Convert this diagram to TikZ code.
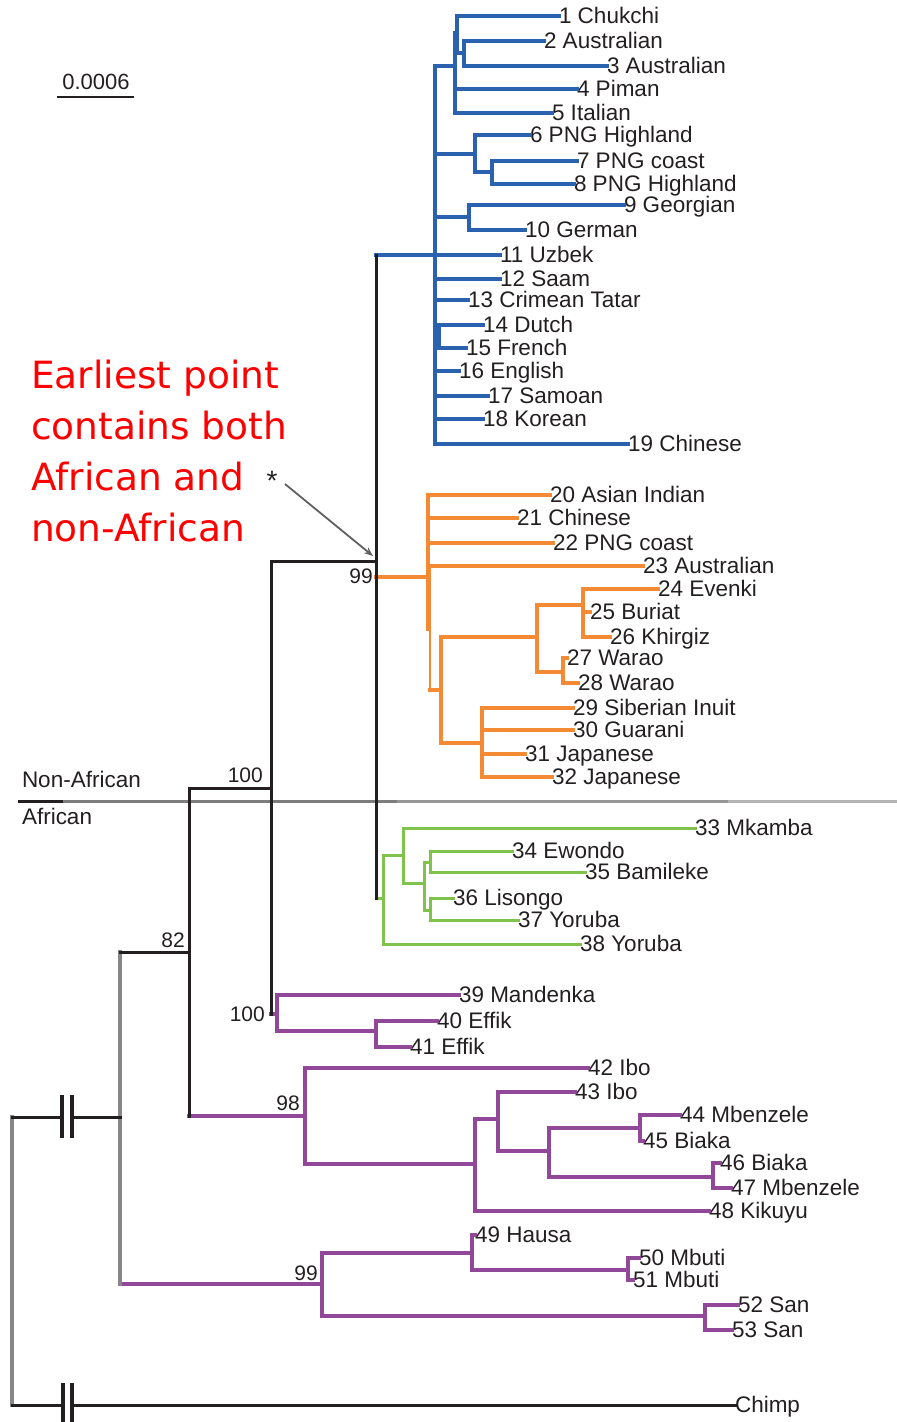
\documentclass[tikz,border=0pt]{standalone}
\usepackage{fontspec}
\setmainfont{Liberation Sans}
\newfontfamily\notefont{DejaVu Sans}
\usetikzlibrary{arrows.meta}
\definecolor{cblue}{RGB}{43,98,176}
\definecolor{corange}{RGB}{244,138,52}
\definecolor{cgreen}{RGB}{128,194,76}
\definecolor{cpurple}{RGB}{146,72,153}
\definecolor{cblack}{RGB}{35,31,32}
\definecolor{cgray}{RGB}{135,135,135}
\definecolor{cred}{RGB}{255,0,0}

% horizontal branch from a parent's vertical line to a child
\newcommand\tbranch[3]{\draw[#1] (#2 |- #3) -- (#3);}
% vertical line of a parent spanning its first and last child
\newcommand\tspan[4]{\draw[#1] (#2 |- #3) -- (#2 |- #4);}
% a leaf label whose west end is the tip of its branch
\newcommand\leaf[4]{\node[lbl] (#1) at (#2,#3) {#4};}

\begin{document}
\begin{tikzpicture}[x=1pt,y=-1pt,
  lbl/.style={anchor=west, inner sep=0pt, outer sep=0pt, text=cblack,
    font=\fontsize{22.5}{24}\selectfont, text height=15pt, text depth=0pt},
  sv/.style={anchor=east, inner sep=0pt, text=cblack,
    font=\fontsize{21}{23}\selectfont, text height=15pt, text depth=0pt},
  note/.style={anchor=base west, inner sep=0pt, text=cred,
    font=\notefont\fontsize{37.5}{51}\selectfont},
  lnB/.style={line width=3.4pt, cblue, line cap=rect},
  lnO/.style={line width=3.2pt, corange, line cap=rect},
  lnG/.style={line width=3pt, cgreen, line cap=rect},
  lnP/.style={line width=3.2pt, cpurple, line cap=rect},
  lnK/.style={line width=3pt, cblack, line cap=rect},
  lnGr/.style={line width=3.2pt, cgray, line cap=rect},
  brk/.style={line width=3.2pt, cblack},
  arr/.style={line width=1.8pt, draw={rgb,255:red,95;green,95;blue,95},
    -{Stealth[length=9pt,width=7pt,fill=cblack]}}]
\useasboundingbox (0,0) rectangle (897,1422);

% ---------- divider between the two groups ----------
\draw[line width=3pt, cblack] (18,801) -- (63,801);
\draw[line width=3pt, color={rgb,255:red,125;green,125;blue,125}] (63,801) -- (397,801);
\draw[line width=3pt, color={rgb,255:red,150;green,150;blue,150}] (397,801) -- (728,801);
\draw[line width=3pt, color={rgb,255:red,180;green,180;blue,180}] (728,801) -- (897,801);
\node[lbl] (nonafr) at (22,780) {Non-African};
\node[lbl] (afr) at (22,817) {African};

% ---------- internal nodes ----------
\coordinate (R) at (12,1117);
\coordinate (Af) at (120,1117);
\coordinate (N82) at (189,952);
\coordinate (N100a) at (271,788);
\coordinate (N99o) at (376,561);
% non-African (blue)
\coordinate (B0) at (435,255);
\coordinate (A) at (455,66);
\coordinate (A1) at (457,33);
\coordinate (A2) at (464,53);
\coordinate (C6) at (475,154);
\coordinate (C7) at (492,172);
\coordinate (C9) at (469,217);
\coordinate (C14) at (439,336);
% non-African (orange)
\coordinate (O0) at (428,577);
\coordinate (O0b) at (430,567);
\coordinate (O0c) at (428,629);
\coordinate (O1) at (441,690);
\coordinate (O2) at (537,637);
\coordinate (O3) at (583,605);
\coordinate (O4) at (563,672);
\coordinate (O5) at (482,743);
% African (green)
\coordinate (G0) at (383,898);
\coordinate (G1) at (403,855);
\coordinate (G2) at (424,883);
\coordinate (G3) at (430,862);
\coordinate (G4) at (430,910);
% African (purple)
\coordinate (P0) at (277,1014);
\coordinate (P1) at (376,1031);
\coordinate (N98) at (305,1116);
\coordinate (P3) at (475,1164);
\coordinate (P4) at (498,1119);
\coordinate (P5) at (549,1151);
\coordinate (P6) at (640,1128);
\coordinate (P7) at (713,1177);
\coordinate (N99) at (322,1284);
\coordinate (P8) at (472,1253);
\coordinate (P10) at (628,1270);
\coordinate (P9) at (705,1316);

% ---------- leaves ----------
\leaf{l1}{559}{16}{1 Chukchi}
\leaf{l2}{544}{41}{2 Australian}
\leaf{l3}{607}{66}{3 Australian}
\leaf{l4}{577}{89}{4 Piman}
\leaf{l5}{552}{113}{5 Italian}
\leaf{l6}{530}{135}{6 PNG Highland}
\leaf{l7}{577}{161}{7 PNG coast}
\leaf{l8}{574}{184}{8 PNG Highland}
\leaf{l9}{624}{205}{9 Georgian}
\leaf{l10}{525}{230}{10 German}
\leaf{l11}{500}{255}{11 Uzbek}
\leaf{l12}{500}{279}{12 Saam}
\leaf{l13}{468}{300}{13 Crimean Tatar}
\leaf{l14}{483}{325}{14 Dutch}
\leaf{l15}{466}{348}{15 French}
\leaf{l16}{459}{371}{16 English}
\leaf{l17}{488}{396}{17 Samoan}
\leaf{l18}{483}{419}{18 Korean}
\leaf{l19}{628}{444}{19 Chinese}
\leaf{l20}{550}{495}{20 Asian Indian}
\leaf{l21}{517}{518}{21 Chinese}
\leaf{l22}{553}{543}{22 PNG coast}
\leaf{l23}{643}{566}{23 Australian}
\leaf{l24}{658}{589}{24 Evenki}
\leaf{l25}{590}{612}{25 Buriat}
\leaf{l26}{610}{637}{26 Khirgiz}
\leaf{l27}{567}{658}{27 Warao}
\leaf{l28}{578}{683}{28 Warao}
\leaf{l29}{573}{708}{29 Siberian Inuit}
\leaf{l30}{573}{730}{30 Guarani}
\leaf{l31}{525}{754}{31 Japanese}
\leaf{l32}{552}{777}{32 Japanese}
\leaf{l33}{695}{828}{33 Mkamba}
\leaf{l34}{512}{851}{34 Ewondo}
\leaf{l35}{585}{872}{35 Bamileke}
\leaf{l36}{453}{898}{36 Lisongo}
\leaf{l37}{518}{920}{37 Yoruba}
\leaf{l38}{580}{944}{38 Yoruba}
\leaf{l39}{459}{995}{39 Mandenka}
\leaf{l40}{437}{1021}{40 Effik}
\leaf{l41}{410}{1047}{41 Effik}
\leaf{l42}{588}{1068}{42 Ibo}
\leaf{l43}{575}{1092}{43 Ibo}
\leaf{l44}{680}{1115}{44 Mbenzele}
\leaf{l45}{643}{1141}{45 Biaka}
\leaf{l46}{720}{1163}{46 Biaka}
\leaf{l47}{731}{1188}{47 Mbenzele}
\leaf{l48}{709}{1211}{48 Kikuyu}
\leaf{l49}{475}{1235}{49 Hausa}
\leaf{l50}{639}{1258}{50 Mbuti}
\leaf{l51}{633}{1280}{51 Mbuti}
\leaf{l52}{738}{1305}{52 San}
\leaf{l53}{732}{1330}{53 San}
\leaf{chimp}{735}{1405}{Chimp}

% ---------- blue clade ----------
\tbranch{lnB}{A2}{l2.west}
\tbranch{lnB}{A2}{l3.west}
\tspan{lnB}{A2}{l2.west}{l3.west}
\tbranch{lnB}{A1}{l1.west}
\tbranch{lnB}{A1}{A2}
\tspan{lnB}{A1}{l1.west}{A2}
\tbranch{lnB}{A}{A1}
\tbranch{lnB}{A}{l4.west}
\tbranch{lnB}{A}{l5.west}
\tspan{lnB}{A}{A1}{l5.west}
\tbranch{lnB}{C7}{l7.west}
\tbranch{lnB}{C7}{l8.west}
\tspan{lnB}{C7}{l7.west}{l8.west}
\tbranch{lnB}{C6}{l6.west}
\tbranch{lnB}{C6}{C7}
\tspan{lnB}{C6}{l6.west}{C7}
\tbranch{lnB}{C9}{l9.west}
\tbranch{lnB}{C9}{l10.west}
\tspan{lnB}{C9}{l9.west}{l10.west}
\tbranch{lnB}{C14}{l14.west}
\tbranch{lnB}{C14}{l15.west}
\tspan{lnB}{C14}{l14.west}{l15.west}
\foreach \c in {A,C6,C9,C14,l11.west,l12.west,l13.west,l16.west,l17.west,l18.west,l19.west}
  {\tbranch{lnB}{B0}{\c}}
\tspan{lnB}{B0}{A}{l19.west}
\tbranch{lnB}{N99o}{B0}

% ---------- orange clade ----------
\foreach \c in {l24,l25,l26} {\tbranch{lnO}{O3}{\c.west}}
\tspan{lnO}{O3}{l24.west}{l26.west}
\foreach \c in {l27,l28} {\tbranch{lnO}{O4}{\c.west}}
\tspan{lnO}{O4}{l27.west}{l28.west}
\tbranch{lnO}{O2}{O3}
\tbranch{lnO}{O2}{O4}
\tspan{lnO}{O2}{O3}{O4}
\foreach \c in {l29,l30,l31,l32} {\tbranch{lnO}{O5}{\c.west}}
\tspan{lnO}{O5}{l29.west}{l32.west}
\tbranch{lnO}{O1}{O2}
\tbranch{lnO}{O1}{O5}
\tspan{lnO}{O1}{O2}{O5}
\foreach \c in {l20,l21,l22,l23} {\tbranch{lnO}{O0}{\c.west}}
\draw[lnO, line width=2.6pt] (O0b) -- (O0b |- O1);
\draw[lnO] (O0 |- l20.west) -- (O0c);
\tbranch{lnO}{O0b}{O1}
\tbranch{lnO}{N99o}{O0}

% ---------- green clade ----------
\foreach \c in {l34,l35} {\tbranch{lnG}{G3}{\c.west}}
\tspan{lnG}{G3}{l34.west}{l35.west}
\foreach \c in {l36,l37} {\tbranch{lnG}{G4}{\c.west}}
\tspan{lnG}{G4}{l36.west}{l37.west}
\tbranch{lnG}{G2}{G3}
\tbranch{lnG}{G2}{G4}
\tspan{lnG}{G2}{G3}{G4}
\tbranch{lnG}{G1}{l33.west}
\tbranch{lnG}{G1}{G2}
\tspan{lnG}{G1}{l33.west}{G2}
\tbranch{lnG}{G0}{G1}
\tbranch{lnG}{G0}{l38.west}
\tspan{lnG}{G0}{G1}{l38.west}
\tbranch{lnG}{N99o}{G0}

% ---------- purple clades ----------
\foreach \c in {l40,l41} {\tbranch{lnP}{P1}{\c.west}}
\tspan{lnP}{P1}{l40.west}{l41.west}
\tbranch{lnP}{P0}{l39.west}
\tbranch{lnP}{P0}{P1}
\tspan{lnP}{P0}{l39.west}{P1}
\tbranch{lnP}{N100a}{P0}

\foreach \c in {l44,l45} {\tbranch{lnP}{P6}{\c.west}}
\tspan{lnP}{P6}{l44.west}{l45.west}
\foreach \c in {l46,l47} {\tbranch{lnP}{P7}{\c.west}}
\tspan{lnP}{P7}{l46.west}{l47.west}
\tbranch{lnP}{P5}{P6}
\tbranch{lnP}{P5}{P7}
\tspan{lnP}{P5}{P6}{P7}
\tbranch{lnP}{P4}{l43.west}
\tbranch{lnP}{P4}{P5}
\tspan{lnP}{P4}{l43.west}{P5}
\tbranch{lnP}{P3}{P4}
\tbranch{lnP}{P3}{l48.west}
\tspan{lnP}{P3}{P4}{l48.west}
\tbranch{lnP}{N98}{l42.west}
\tbranch{lnP}{N98}{P3}
\tspan{lnP}{N98}{l42.west}{P3}
\tbranch{lnP}{N82}{N98}

\foreach \c in {l50,l51} {\tbranch{lnP}{P10}{\c.west}}
\tspan{lnP}{P10}{l50.west}{l51.west}
\tbranch{lnP}{P8}{l49.west}
\tbranch{lnP}{P8}{P10}
\tspan{lnP}{P8}{l49.west}{P10}
\foreach \c in {l52,l53} {\tbranch{lnP}{P9}{\c.west}}
\tspan{lnP}{P9}{l52.west}{l53.west}
\tbranch{lnP}{N99}{P8}
\tbranch{lnP}{N99}{P9}
\tspan{lnP}{N99}{P8}{P9}
\tbranch{lnP}{Af}{N99}

% ---------- backbone ----------
\tspan{lnGr}{R}{R}{chimp.west}
\tspan{lnGr}{Af}{N82}{N99}
\tbranch{lnK}{Af}{N82}
\tspan{lnK}{N82}{N100a}{N98}
\tbranch{lnK}{N82}{N100a}
\tspan{lnK}{N100a}{N99o}{P0}
\tbranch{lnK}{N100a}{N99o}
\tspan{lnK}{N99o}{B0}{G0}

% root to African group, with a break
\coordinate (k1a) at (62,1117);
\coordinate (k1b) at (72,1117);
\draw[lnK] (R) -- (k1a);
\draw[lnK] (k1b) -- (Af);
\draw[brk] (62,1095) -- (62,1138);
\draw[brk] (72,1095) -- (72,1138);
% root to chimp, with a break
\coordinate (k2a) at (63,1405);
\coordinate (k2b) at (72,1405);
\draw[lnK] (R |- chimp.west) -- (k2a);
\draw[lnK] (k2b) -- (chimp.west);
\draw[brk] (63,1383) -- (63,1424);
\draw[brk] (72,1383) -- (72,1424);

% ---------- support values ----------
\node[sv] (s99a) at (373,576) {99};
\node[sv] (s100a) at (263,775) {100};
\node[sv] (s82) at (185,940) {82};
\node[sv] (s100b) at (265,1014) {100};
\node[sv] (s98) at (300,1103) {98};
\node[sv] (s99b) at (318,1273) {99};

% ---------- scale bar ----------
\node[inner sep=0pt, text=cblack, font=\fontsize{22}{24}\selectfont] (scl) at (96,82) {0.0006};
\draw[line width=2.8pt, cblack] (57,97) -- (134,97);

% ---------- note and pointer ----------
\node[note] (n1) at (31,388) {Earliest point};
\node[note] (n2) at (31,439) {contains both};
\node[note] (n3) at (31,490) {African and};
\node[note] (n4) at (31,541) {non-African};
\node[inner sep=0pt, text=cblack, font=\fontsize{28}{30}\selectfont] (star) at (272,481) {*};
\coordinate (arrS) at (285,484);
\coordinate (arrE) at (373,556);
\draw[arr] (arrS) -- (arrE);
\end{tikzpicture}
\end{document}
